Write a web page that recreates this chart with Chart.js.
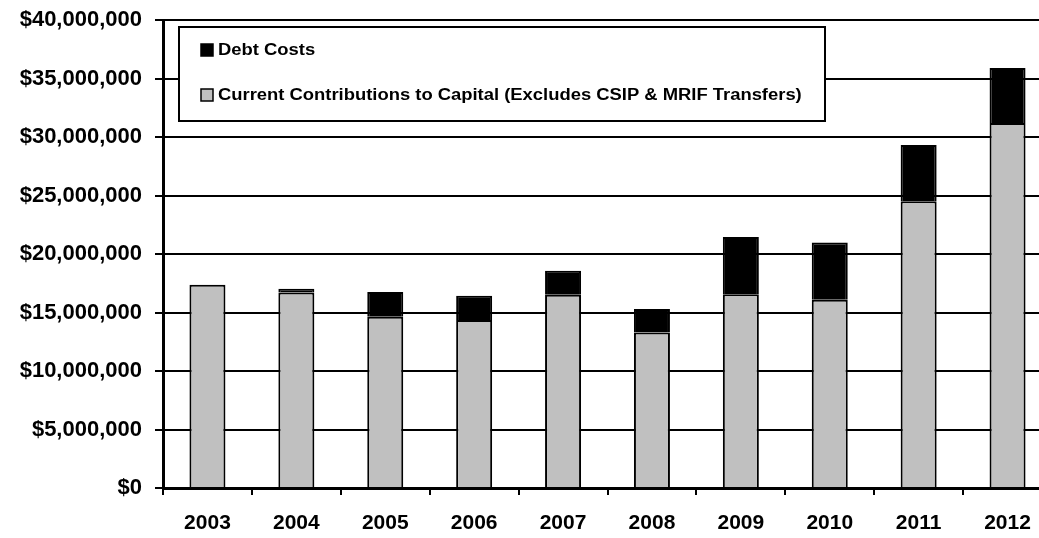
<!DOCTYPE html>
<html>
<head>
<meta charset="utf-8">
<script src="https://cdn.jsdelivr.net/npm/chart.js@4/dist/chart.umd.min.js"></script>
<style>
  html, body { margin: 0; padding: 0; background: #fff; overflow: hidden; }
  #wrap { width: 1052px; height: 538px; position: relative; }
</style>
</head>
<body>
<div id="wrap"><canvas id="capChart"></canvas></div>
<script>
  // fiscal years and the two stacked components (dollars)
  const years = ['2003', '2004', '2005', '2006', '2007', '2008', '2009', '2010', '2011', '2012'];
  const contributions = [17380000, 16720000, 14640000, 14360000, 16520000, 13300000, 16550000, 16090000, 24500000, 31200000];
  const debtCosts = [0, 310000, 2110000, 2080000, 2050000, 2000000, 4900000, 4900000, 4820000, 4700000];
  const legendLabels = ['Debt Costs', 'Current Contributions to Capital (Excludes CSIP & MRIF Transfers)'];

  const FONT = '"Liberation Sans", Arial, sans-serif';

  // legend drawn as a boxed panel inside the plot
  const boxLegend = {
    id: 'boxLegend',
    afterDatasetsDraw(chart) {
      const ctx = chart.ctx;
      ctx.save();
      ctx.fillStyle = '#fff';
      ctx.fillRect(179, 27, 646, 94);
      ctx.strokeStyle = '#000';
      ctx.lineWidth = 2;
      ctx.strokeRect(179, 27, 646, 94);

      const rows = [
        { y: 50, fill: '#000', text: legendLabels[0] },
        { y: 95, fill: '#c0c0c0', text: legendLabels[1] }
      ];
      rows.forEach(r => {
        ctx.fillStyle = r.fill;
        ctx.fillRect(201, r.y - 6, 12, 12);
        ctx.lineWidth = 1.5;
        ctx.strokeStyle = '#000';
        ctx.strokeRect(201, r.y - 6, 12, 12);
        // the labels run slightly wide, so stretch them horizontally
        ctx.save();
        ctx.translate(218, r.y + 1);
        ctx.scale(1.15, 1);
        ctx.font = 'bold 16px ' + FONT;
        ctx.textBaseline = 'middle';
        ctx.fillStyle = '#000';
        ctx.fillText(r.text, 0, 0);
        ctx.restore();
      });
      ctx.restore();
    }
  };

  const ctx = document.getElementById('capChart').getContext('2d');
  const capChart = new Chart(ctx, {
    type: 'bar',
    data: {
      labels: years,
      datasets: [
        {
          label: legendLabels[1],
          data: contributions,
          backgroundColor: '#c0c0c0',
          borderColor: '#000',
          borderWidth: 2,
          barPercentage: 0.405,
          categoryPercentage: 1
        },
        {
          label: legendLabels[0],
          data: debtCosts,
          backgroundColor: '#000',
          borderColor: '#000',
          borderWidth: 2,
          barPercentage: 0.405,
          categoryPercentage: 1
        }
      ]
    },
    options: {
      responsive: true,
      maintainAspectRatio: false,
      animation: false,
      layout: { padding: { top: 20, right: 0, left: 0, bottom: 0 } },
      plugins: {
        legend: { display: false },
        tooltip: { enabled: false }
      },
      scales: {
        x: {
          stacked: true,
          grid: { display: true, drawOnChartArea: false, drawTicks: true, tickLength: 7, color: '#000', lineWidth: 2 },
          border: { color: '#000', width: 3 },
          ticks: { color: '#000', font: { family: FONT, size: 21, weight: 'bold' }, padding: 16 },
          afterFit(scale) { scale.height = 50; }
        },
        y: {
          stacked: true,
          min: 0,
          max: 40000000,
          ticks: {
            stepSize: 5000000,
            color: '#000',
            font: { family: FONT, size: 22, weight: 'bold' },
            padding: 13,
            callback: v => '$' + Number(v).toLocaleString('en-US')
          },
          grid: { color: '#000', lineWidth: 2, tickLength: 8 },
          border: { color: '#000', width: 3 },
          afterFit(scale) {
            scale.width = 163;
            scale.paddingTop = 0;
            scale.paddingBottom = 0;
          }
        }
      }
    },
    plugins: [boxLegend]
  });
</script>
</body>
</html>
